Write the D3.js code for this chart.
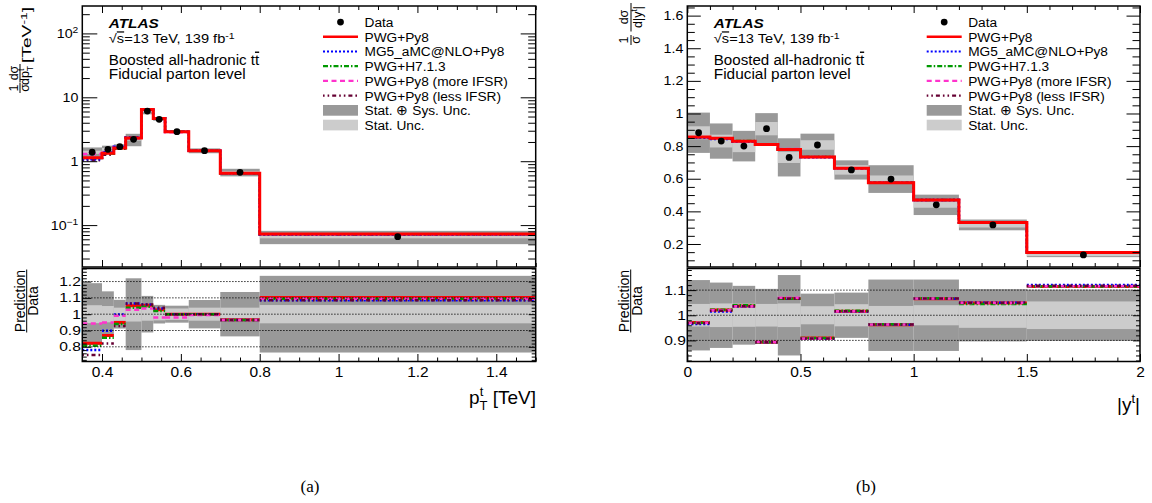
<!DOCTYPE html>
<html><head><meta charset="utf-8">
<script src="https://cdn.jsdelivr.net/npm/d3@7"></script>
<style>
body{margin:0;background:#fff}
svg{display:block;background:#fff}
text{font-family:"Liberation Sans",Arial,Helvetica,sans-serif;fill:#000}
</style>
</head><body>
<svg id="c" width="1152" height="503"></svg>
<script>
// ---------------- DATA: panel (a) top-quark pT ----------------
const ptEdges = [0.35, 0.40, 0.43, 0.46, 0.50, 0.53, 0.56, 0.62, 0.70, 0.80, 1.50];
const ptData = [1.38, 1.535, 1.69, 2.2, 6.1, 4.53, 2.9, 1.46, 0.67, 0.0658];
const ptTotRel = [0.19, 0.14, 0.088, 0.22, 0.112, 0.057, 0.052, 0.087, 0.136, 0.235];
const ptStatRel = [0.055, 0.05, 0.04, 0.045, 0.04, 0.038, 0.035, 0.04, 0.04, 0.056];
const ptPwgPy8 = [1.134, 1.335, 1.604, 2.312, 6.436, 4.652, 2.9, 1.46, 0.647, 0.0725];
const ptMg5 = [1.076, 1.378, 1.687, 2.343, 6.466, 4.689, 2.9, 1.46, 0.647, 0.0714];
const ptH7 = [1.112, 1.312, 1.589, 2.288, 6.375, 4.621, 2.9, 1.46, 0.647, 0.0721];
const ptMoreIFSR = [1.301, 1.457, 1.673, 2.259, 6.314, 4.439, 2.842, 1.453, 0.647, 0.0721];
const ptLessIFSR = [1.035, 1.259, 1.568, 2.343, 6.466, 4.711, 2.9, 1.46, 0.647, 0.0714];
const ptRatioPwgPy8 = [0.822, 0.87, 0.949, 1.051, 1.055, 1.027, 1.0, 1.0, 0.966, 1.102];
const ptRatioMg5 = [0.78, 0.898, 0.998, 1.065, 1.06, 1.035, 1.0, 1.0, 0.965, 1.085];
const ptRatioH7 = [0.806, 0.855, 0.94, 1.04, 1.045, 1.02, 1.0, 1.0, 0.965, 1.095];
const ptRatioMoreIFSR = [0.943, 0.949, 0.99, 1.027, 1.035, 0.98, 0.98, 0.995, 0.965, 1.095];
const ptRatioLessIFSR = [0.75, 0.82, 0.928, 1.065, 1.06, 1.04, 1.0, 1.0, 0.965, 1.085];
const ptXTicks = [0.4, 0.6, 0.8, 1.0, 1.2, 1.4];
const ptYTicks = [0.1, 1, 10, 100];
const ptRTicks = [0.8, 0.9, 1.0, 1.1, 1.2];

// ---------------- DATA: panel (b) top-quark |y| ----------------
const ytEdges = [0, 0.1, 0.2, 0.3, 0.4, 0.5, 0.65, 0.8, 1.0, 1.2, 1.5, 2.0];
const ytData = [0.882, 0.831, 0.80, 0.907, 0.731, 0.807, 0.654, 0.598, 0.44, 0.317, 0.133];
const ytTotRel = [0.14, 0.13, 0.117, 0.105, 0.16, 0.086, 0.09, 0.142, 0.142, 0.104, 0.102];
const ytStatRel = [0.045, 0.047, 0.046, 0.045, 0.047, 0.036, 0.044, 0.037, 0.04, 0.05, 0.055];
const ytPwgPy8 = [0.856, 0.848, 0.83, 0.81, 0.78, 0.734, 0.664, 0.575, 0.469, 0.3325, 0.148];
const ytMg5 = [0.851, 0.843, 0.828, 0.81, 0.78, 0.732, 0.664, 0.575, 0.469, 0.333, 0.149];
const ytH7 = [0.855, 0.849, 0.832, 0.81, 0.779, 0.734, 0.666, 0.576, 0.47, 0.331, 0.148];
const ytMoreIFSR = [0.855, 0.848, 0.829, 0.811, 0.782, 0.733, 0.664, 0.576, 0.469, 0.3325, 0.148];
const ytLessIFSR = [0.854, 0.846, 0.829, 0.81, 0.78, 0.733, 0.664, 0.576, 0.469, 0.333, 0.1486];
const ytRatioPwgPy8 = [0.971, 1.021, 1.037, 0.893, 1.067, 0.909, 1.016, 0.962, 1.066, 1.049, 1.114];
const ytRatioMg5 = [0.965, 1.015, 1.035, 0.893, 1.067, 0.907, 1.015, 0.962, 1.066, 1.05, 1.12];
const ytRatioH7 = [0.97, 1.022, 1.04, 0.893, 1.066, 0.909, 1.018, 0.964, 1.068, 1.045, 1.114];
const ytRatioMoreIFSR = [0.97, 1.02, 1.036, 0.894, 1.07, 0.908, 1.016, 0.963, 1.067, 1.049, 1.115];
const ytRatioLessIFSR = [0.968, 1.018, 1.036, 0.893, 1.067, 0.908, 1.016, 0.963, 1.067, 1.05, 1.117];
const ytXTicks = [0, 0.5, 1, 1.5, 2];
const ytYTicks = [0.2, 0.4, 0.6, 0.8, 1.0, 1.2, 1.4, 1.6];
const ytRTicks = [0.9, 1.0, 1.1];

const legendLabels = ["Data", "PWG+Py8", "MG5_aMC@NLO+Py8", "PWG+H7.1.3",
  "PWG+Py8 (more IFSR)", "PWG+Py8 (less IFSR)", "Stat. \u2295 Sys. Unc.", "Stat. Unc."];

// ---------------- styles ----------------
const seriesStyle = [
  {color: "#ff0000", dash: null, w: 3},
  {color: "#0000ff", dash: "2,2", w: 2.5},
  {color: "#009900", dash: "5,2,1.5,2", w: 2.2},
  {color: "#ff33cc", dash: "5,3.5", w: 2.5},
  {color: "#660033", dash: "1.6,3,1.6,3,4,3", w: 2.5}
];
const DARK = "#999999", LIGHT = "#cccccc";
const MT = 6, MB = 267, RT = 268.5, RB = 361.5;

const svg = d3.select("#c");
const defs = svg.append("defs");

function styleLabels(g, size, sx, pad) {
  g.selectAll(".tick text").attr("font-size", size).attr("font-family", '"Liberation Sans",Arial,sans-serif')
    .attr("fill", "#000");
  if (sx) g.selectAll(".tick text").attr("transform", `scale(${sx},1)`).attr("x", -pad / sx);
}
function clean(g) { g.select(".domain").remove(); g.selectAll(".tick line").attr("stroke", "#000").attr("stroke-width", 1); }

function drawPanel(cfg) {
  const {x0, x1, id} = cfg;
  const n = cfg.data.length;
  const bins = d3.range(n);
  const x = d3.scaleLinear().domain(cfg.xDomain).range([x0, x1]);
  const y = (cfg.logY ? d3.scaleLog() : d3.scaleLinear()).domain(cfg.yDomain).range([MB, MT]);
  const yr = d3.scaleLinear().domain(cfg.rDomain).range([RB, RT]);

  defs.append("clipPath").attr("id", "cm" + id).append("rect").attr("x", x0).attr("y", MT).attr("width", x1 - x0).attr("height", MB - MT);
  defs.append("clipPath").attr("id", "cr" + id).append("rect").attr("x", x0).attr("y", RT).attr("width", x1 - x0).attr("height", RB - RT);

  const xl = i => x(cfg.edges[i]), xh = i => x(cfg.edges[i + 1]);
  function bands(g, lo, hi, fill) {
    g.append("g").selectAll("rect").data(bins).join("rect")
      .attr("x", xl).attr("width", i => xh(i) - xl(i))
      .attr("y", hi).attr("height", i => lo(i) - hi(i)).attr("fill", fill);
  }

  // ---- main panel ----
  const gm = svg.append("g").attr("clip-path", `url(#cm${id})`);
  bands(gm, i => y(cfg.data[i] * (1 - cfg.tot[i])), i => y(cfg.data[i] * (1 + cfg.tot[i])), DARK);
  bands(gm, i => y(cfg.data[i] * (1 - cfg.stat[i])), i => y(cfg.data[i] * (1 + cfg.stat[i])), LIGHT);
  const stepLine = d3.line().x(d => x(d[0])).y(d => y(d[1])).curve(d3.curveStepAfter);
  [4, 3, 2, 1, 0].forEach(k => {
    const s = cfg.series[k], st = seriesStyle[k];
    const pts = bins.map(i => [cfg.edges[i], s.main[i]]).concat([[cfg.edges[n], s.main[n - 1]]]);
    gm.append("path").attr("d", stepLine(pts)).attr("fill", "none").attr("stroke", st.color)
      .attr("stroke-width", st.w).attr("stroke-dasharray", st.dash);
  });
  gm.append("g").selectAll("circle").data(bins).join("circle")
    .attr("cx", i => x((cfg.edges[i] + cfg.edges[i + 1]) / 2)).attr("cy", i => y(cfg.data[i]))
    .attr("r", 3.4).attr("fill", "#000");

  // ---- ratio panel ----
  const gr = svg.append("g").attr("clip-path", `url(#cr${id})`);
  bands(gr, i => yr(1 - cfg.tot[i]), i => yr(1 + cfg.tot[i]), DARK);
  bands(gr, i => yr(1 - cfg.stat[i]), i => yr(1 + cfg.stat[i]), LIGHT);
  [0, 1, 2, 3, 4].forEach(k => {
    const s = cfg.series[k], st = seriesStyle[k];
    gr.append("g").selectAll("line").data(bins).join("line")
      .attr("x1", xl).attr("x2", xh).attr("y1", i => yr(s.ratio[i])).attr("y2", i => yr(s.ratio[i]))
      .attr("stroke", st.color).attr("stroke-width", k === 0 ? 3 : 2.5).attr("stroke-dasharray", st.dash);
  });
  gr.append("g").selectAll("line").data(cfg.rTicks).join("line")
    .attr("x1", x0).attr("x2", x1).attr("y1", d => yr(d)).attr("y2", d => yr(d))
    .attr("stroke", "#000").attr("stroke-width", 1).attr("stroke-dasharray", "1.2,1.8");

  // ---- axes: main ----
  const gA = svg.append("g");
  gA.append("g").attr("transform", `translate(${x0},0)`)
    .call(d3.axisLeft(y).tickValues(cfg.yTicks).tickSize(-cfg.yMaj).tickPadding(4).tickFormat(cfg.yFmt))
    .call(clean).call(g => { styleLabels(g, 12.5, 1.14, 4); if (cfg.logY) logLabels(g); });
  gA.append("g").attr("transform", `translate(${x0},0)`)
    .call(d3.axisLeft(y).tickValues(cfg.yMinor).tickSize(-cfg.yMin).tickFormat("")).call(clean);
  gA.append("g").attr("transform", `translate(${x1},0)`)
    .call(d3.axisLeft(y).tickValues(cfg.yTicks).tickSize(cfg.yMaj).tickFormat("")).call(clean);
  gA.append("g").attr("transform", `translate(${x1},0)`)
    .call(d3.axisLeft(y).tickValues(cfg.yMinor).tickSize(cfg.yMin).tickFormat("")).call(clean);
  gA.append("g").attr("transform", `translate(0,${MT})`)
    .call(d3.axisBottom(x).tickValues(cfg.xTicks).tickSize(7).tickFormat("")).call(clean);
  gA.append("g").attr("transform", `translate(0,${MT})`)
    .call(d3.axisBottom(x).tickValues(cfg.xMinor).tickSize(4).tickFormat("")).call(clean);
  gA.append("g").attr("transform", `translate(0,${MB})`)
    .call(d3.axisTop(x).tickValues(cfg.xTicks).tickSize(7).tickFormat("")).call(clean);
  gA.append("g").attr("transform", `translate(0,${MB})`)
    .call(d3.axisTop(x).tickValues(cfg.xMinor).tickSize(4).tickFormat("")).call(clean);

  // ---- axes: ratio ----
  gA.append("g").attr("transform", `translate(${x0},0)`)
    .call(d3.axisLeft(yr).tickValues(cfg.rTicks).tickSize(-9).tickPadding(1.5).tickFormat(d => d3.format("~g")(d)))
    .call(clean).call(g => styleLabels(g, 12.5, 1.25, 1.5));
  gA.append("g").attr("transform", `translate(${x0},0)`)
    .call(d3.axisLeft(yr).tickValues(cfg.rMinor).tickSize(-4.5).tickFormat("")).call(clean);
  gA.append("g").attr("transform", `translate(${x1},0)`)
    .call(d3.axisLeft(yr).tickValues(cfg.rTicks).tickSize(7).tickFormat("")).call(clean);
  gA.append("g").attr("transform", `translate(${x1},0)`)
    .call(d3.axisLeft(yr).tickValues(cfg.rMinor).tickSize(4).tickFormat("")).call(clean);
  gA.append("g").attr("transform", `translate(0,${RB})`)
    .call(d3.axisBottom(x).tickValues(cfg.xTicks).tickSize(-7.5).tickPadding(4.5).tickFormat(d => d3.format("~g")(d)))
    .call(clean).call(g => styleLabels(g, 15.5));
  gA.append("g").attr("transform", `translate(0,${RB})`)
    .call(d3.axisBottom(x).tickValues(cfg.xMinor).tickSize(-4).tickFormat("")).call(clean);

  // frames
  gA.append("rect").attr("x", x0).attr("y", MT).attr("width", x1 - x0).attr("height", MB - MT)
    .attr("fill", "none").attr("stroke", "#000").attr("stroke-width", 1.5);
  gA.append("rect").attr("x", x0).attr("y", RT).attr("width", x1 - x0).attr("height", RB - RT)
    .attr("fill", "none").attr("stroke", "#000").attr("stroke-width", 1.5);

  // ---- labels ----
  const lx = x0 + 26.5;
  const t1 = gA.append("text").attr("x", lx).attr("y", 28).attr("font-size", 13).attr("font-weight", "bold")
    .attr("font-style", "italic").text("ATLAS");
  t1.attr("transform", `translate(${lx},0) scale(1.18,1) translate(${-lx},0)`);
  const t2 = gA.append("text").attr("x", lx).attr("y", 43.3).attr("font-size", 12.5)
    .attr("transform", `translate(${lx},0) scale(1.17,1) translate(${-lx},0)`);
  t2.append("tspan").text("\u221A");
  t2.append("tspan").attr("text-decoration", "overline").text("s");
  t2.append("tspan").text("=13 TeV, 139 fb");
  t2.append("tspan").attr("dy", "-0.45em").attr("font-size", "0.72em").text("-1");
  const t3 = gA.append("text").attr("x", lx).attr("y", 65).attr("font-size", 14)
    .attr("transform", `translate(${lx},0) scale(1.08,1) translate(${-lx},0)`);
  t3.append("tspan").text("Boosted all-hadronic t");
  t3.append("tspan").attr("text-decoration", "overline").text("t");
  gA.append("text").attr("x", lx).attr("y", 79.3).attr("font-size", 14)
    .attr("transform", `translate(${lx},0) scale(1.1,1) translate(${-lx},0)`).text("Fiducial parton level");

  // ---- legend ----
  const lg = gA.append("g");
  const sx0 = cfg.legX, sx1 = cfg.legX + 35, tx = cfg.legX + 41.5;
  legendLabels.forEach((lab, i) => {
    const cy = 22.1 + 14.7 * i;
    if (i === 0) lg.append("circle").attr("cx", (sx0 + sx1) / 2).attr("cy", cy).attr("r", 3.4).attr("fill", "#000");
    else if (i <= 5) {
      const st = seriesStyle[i - 1];
      lg.append("line").attr("x1", sx0).attr("x2", sx1).attr("y1", cy).attr("y2", cy)
        .attr("stroke", st.color).attr("stroke-width", i === 1 ? 2.5 : 2.2).attr("stroke-dasharray", st.dash);
    } else {
      lg.append("rect").attr("x", sx0).attr("y", cy - 5.3).attr("width", 35).attr("height", 10.7)
        .attr("fill", i === 6 ? DARK : LIGHT);
    }
    lg.append("text").attr("x", tx).attr("y", cy + 4.9).attr("font-size", 13.7).text(lab);
  });
}

function logLabels(g) {
  g.selectAll(".tick text").each(function (d) {
    const t = d3.select(this);
    const e = Math.round(Math.log10(d));
    t.text(null);
    if (e === 0) t.text("1");
    else if (e === 1) t.text("10");
    else {
      t.append("tspan").text("10");
      t.append("tspan").attr("dy", "-0.5em").attr("font-size", "0.72em").text(e < 0 ? "\u2212" + (-e) : String(e));
    }
  });
}

function minorRange(a, b, step, majors) {
  return d3.range(Math.round(a / step), Math.round(b / step) + 1).map(k => +(k * step).toFixed(4))
    .filter(v => !majors.some(m => Math.abs(m - v) < 1e-6));
}
const logMinors = [];
[-2, -1, 0, 1, 2].forEach(e => d3.range(2, 10).forEach(m => {
  const v = m * Math.pow(10, e); if (v > 0.0222 && v < 268) logMinors.push(v);
}));

drawPanel({
  id: "a", x0: 82.3, x1: 535.7, xDomain: [0.35, 1.5], logY: true, yDomain: [0.0221, 268.5],
  rDomain: [0.71, 1.28], edges: ptEdges, data: ptData, tot: ptTotRel, stat: ptStatRel,
  series: [
    {main: ptPwgPy8, ratio: ptRatioPwgPy8}, {main: ptMg5, ratio: ptRatioMg5}, {main: ptH7, ratio: ptRatioH7},
    {main: ptMoreIFSR, ratio: ptRatioMoreIFSR}, {main: ptLessIFSR, ratio: ptRatioLessIFSR}],
  xTicks: ptXTicks, xMinor: minorRange(0.4, 1.5, 0.05, ptXTicks), yTicks: ptYTicks, yMinor: logMinors,
  yFmt: d => String(d), yMaj: 15, yMin: 7.5, rTicks: ptRTicks, rMinor: minorRange(0.72, 1.28, 0.02, ptRTicks),
  legX: 323
});
drawPanel({
  id: "b", x0: 687.3, x1: 1140, xDomain: [0, 2], logY: false, yDomain: [0.059, 1.659],
  rDomain: [0.816, 1.186], edges: ytEdges, data: ytData, tot: ytTotRel, stat: ytStatRel,
  series: [
    {main: ytPwgPy8, ratio: ytRatioPwgPy8}, {main: ytMg5, ratio: ytRatioMg5}, {main: ytH7, ratio: ytRatioH7},
    {main: ytMoreIFSR, ratio: ytRatioMoreIFSR}, {main: ytLessIFSR, ratio: ytRatioLessIFSR}],
  xTicks: ytXTicks, xMinor: minorRange(0.1, 1.9, 0.1, ytXTicks), yTicks: ytYTicks,
  yMinor: minorRange(0.1, 1.65, 0.05, ytYTicks), yFmt: d => d3.format("~g")(d), yMaj: 13.5, yMin: 7.5,
  rTicks: ytRTicks, rMinor: minorRange(0.82, 1.18, 0.02, ytRTicks), legX: 926.7
});

// ---------------- axis titles ----------------
function rot() { return svg.append("g").attr("transform", "rotate(-90)"); }
const FS = 12.5;
// (a) y title: point (xr,yr) -> screen (yr,-xr)
(function () {
  const g = rot();
  g.append("text").attr("x", -88).attr("y", 17.5).attr("font-size", FS).attr("text-anchor", "middle").text("1");
  g.append("line").attr("x1", -93).attr("x2", -83).attr("y1", 20).attr("y2", 20).attr("stroke", "#000").attr("stroke-width", 1);
  g.append("text").attr("x", -88).attr("y", 29).attr("font-size", FS).attr("text-anchor", "middle").text("\u03C3");
  g.append("text").attr("x", -73).attr("y", 17.5).attr("font-size", FS).attr("text-anchor", "middle").text("d\u03C3");
  g.append("line").attr("x1", -82.5).attr("x2", -64).attr("y1", 20).attr("y2", 20).attr("stroke", "#000").attr("stroke-width", 1);
  const d = g.append("text").attr("x", -75.5).attr("y", 29).attr("font-size", FS).attr("text-anchor", "middle");
  d.append("tspan").text("dp");
  d.append("tspan").attr("font-size", 8.5).attr("dy", -5).text("t");
  d.append("tspan").attr("font-size", 8.5).attr("dx", -2.5).attr("dy", 8.5).text("T");
  const u = g.append("text").attr("x", -63).attr("y", 31).attr("font-size", 12.5)
    .attr("textLength", 56).attr("lengthAdjust", "spacingAndGlyphs");
  u.append("tspan").text("[TeV");
  u.append("tspan").attr("dy", -4.5).attr("font-size", 9).text("-1");
  u.append("tspan").attr("dy", 4.5).text("]");
})();
// (b) y title
(function () {
  const g = rot();
  g.append("text").attr("x", -40).attr("y", 628).attr("font-size", FS).attr("text-anchor", "middle").text("1");
  g.append("line").attr("x1", -45).attr("x2", -35).attr("y1", 631).attr("y2", 631).attr("stroke", "#000").attr("stroke-width", 1);
  g.append("text").attr("x", -40).attr("y", 640).attr("font-size", FS).attr("text-anchor", "middle").text("\u03C3");
  g.append("text").attr("x", -17).attr("y", 628).attr("font-size", FS).attr("text-anchor", "middle").text("d\u03C3");
  g.append("line").attr("x1", -31.5).attr("x2", -3).attr("y1", 631).attr("y2", 631).attr("stroke", "#000").attr("stroke-width", 1);
  const d = g.append("text").attr("x", -17).attr("y", 641.5).attr("font-size", FS).attr("text-anchor", "middle");
  d.append("tspan").text("d|y");
  d.append("tspan").attr("font-size", 8.5).attr("dy", -5).text("t");
  d.append("tspan").attr("dy", 5).text("|");
})();
// ratio titles
[[26.7, -301], [630.7, -301]].forEach(([bar, c]) => {
  const g = rot();
  g.append("text").attr("x", c).attr("y", bar - 2.2).attr("font-size", 14).attr("text-anchor", "middle").text("Prediction");
  g.append("line").attr("x1", c - 31.5).attr("x2", c + 31.5).attr("y1", bar).attr("y2", bar).attr("stroke", "#000").attr("stroke-width", 1);
  g.append("text").attr("x", c).attr("y", bar + 11.5).attr("font-size", 14).attr("text-anchor", "middle").text("Data");
});
// x titles
(function () {
  const t = svg.append("text").attr("x", 536).attr("y", 404).attr("font-size", 19).attr("text-anchor", "end");
  t.append("tspan").text("p");
  t.append("tspan").attr("font-size", 13).attr("dy", -8).text("t");
  t.append("tspan").attr("font-size", 13).attr("dx", -3.8).attr("dy", 13.5).text("T");
  t.append("tspan").attr("dy", -5.5).text(" [TeV]");
  const r = svg.append("text").attr("x", 1140).attr("y", 411).attr("font-size", 19).attr("text-anchor", "end");
  r.append("tspan").text("|y");
  r.append("tspan").attr("font-size", 13).attr("dy", -8).text("t");
  r.append("tspan").attr("dy", 8).text("|");
})();
// captions
svg.append("text").attr("x", 310).attr("y", 492).attr("font-size", 17).attr("text-anchor", "middle")
  .style("font-family", '"Liberation Serif","Times New Roman",serif').text("(a)");
svg.append("text").attr("x", 866).attr("y", 492).attr("font-size", 17).attr("text-anchor", "middle")
  .style("font-family", '"Liberation Serif","Times New Roman",serif').text("(b)");
</script>
</body></html>
